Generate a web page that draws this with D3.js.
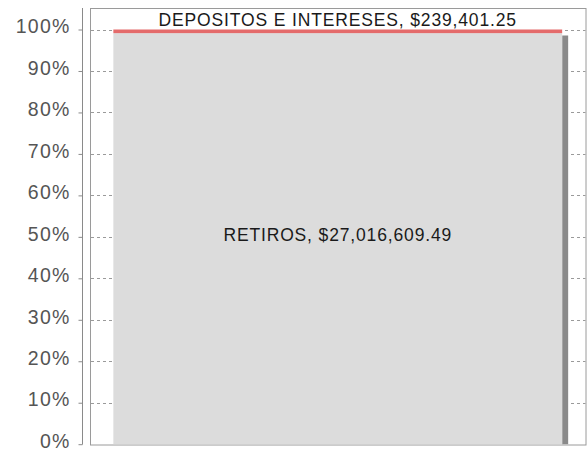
<!DOCTYPE html>
<html>
<head>
<meta charset="utf-8">
<script src="https://cdn.jsdelivr.net/npm/d3@7"></script>
<style>
  body { margin: 0; background: #fff; }
  svg { display: block; font-family: "Liberation Sans", Arial, sans-serif; }
</style>
</head>
<body>
<div id="chart"></div>
<script>
// data
const categories = ["RETIROS", "DEPOSITOS E INTERESES"];
const amounts = [27016609.49, 239401.25];
const segmentColors = ["#dcdcdc", "#e46b6b"];
const yTicks = [0, 0.1, 0.2, 0.3, 0.4, 0.5, 0.6, 0.7, 0.8, 0.9, 1];

const width = 588;
const height = 451;
const frame = { left: 90, top: 8, right: 585.5, bottom: 444.5 };

const svg = d3.select("#chart")
  .append("svg")
  .attr("width", width)
  .attr("height", height);

const total = d3.sum(amounts);
let acc = 0;
const stacked = categories.map((c, i) => {
  const d = { name: c, value: amounts[i], y0: acc / total, y1: (acc + amounts[i]) / total, color: segmentColors[i] };
  acc += amounts[i];
  return d;
});

const yScale = d3.scaleLinear()
  .domain([0, 1])
  .range([444.2, 29.5]);

const xScale = d3.scaleBand()
  .domain(["total"])
  .range([frame.left, frame.right])
  .paddingInner(0)
  .paddingOuter(0.052);

// frame
svg.append("rect")
  .attr("x", frame.left + 0.5)
  .attr("y", frame.top + 0.5)
  .attr("width", frame.right - frame.left)
  .attr("height", frame.bottom - frame.top)
  .attr("fill", "none")
  .attr("stroke", "#9a9a9a");

// dashed gridlines behind bar
svg.append("g")
  .selectAll("line")
  .data(yTicks.slice(1))
  .join("line")
  .attr("x1", frame.left + 1)
  .attr("x2", frame.right)
  .attr("y1", d => Math.round(yScale(d)) + 0.5)
  .attr("y2", d => Math.round(yScale(d)) + 0.5)
  .attr("stroke", "#9a9a9a")
  .attr("stroke-dasharray", "3,3");

const bx = xScale("total");
const bw = xScale.bandwidth();

// drop shadow
svg.append("rect")
  .attr("x", bx + bw)
  .attr("y", yScale(1) + 6)
  .attr("width", 6)
  .attr("height", yScale(0) - yScale(1) - 6)
  .attr("fill", "#8a8a8a");

// stacked segments
svg.append("g")
  .selectAll("rect")
  .data(stacked)
  .join("rect")
  .attr("x", bx)
  .attr("width", bw)
  .attr("y", d => yScale(d.y1))
  .attr("height", d => yScale(d.y0) - yScale(d.y1))
  .attr("fill", d => d.color);

const money = d3.format("$,.2f");

// labels
svg.append("g")
  .selectAll("text")
  .data(stacked)
  .join("text")
  .attr("x", bx + bw / 2)
  .attr("y", (d, i) => i === 0 ? (yScale(d.y0) + yScale(d.y1)) / 2 + 2 : yScale(1) - 3.5)
  .attr("text-anchor", "middle")
  .attr("font-size", "17.5px")
  .attr("letter-spacing", "0.85px")
  .attr("fill", "#1a1a1a")
  .text(d => `${d.name}, ${money(d.value)}`);

// y axis
const yAxis = svg.append("g")
  .attr("transform", "translate(82.5,0)")
  .call(d3.axisLeft(yScale)
    .tickValues(yTicks)
    .tickFormat(d3.format(".0%"))
    .tickSize(4)
    .tickPadding(8));
yAxis.select(".domain").remove();
yAxis.selectAll(".tick line").attr("stroke", "#8a8a8a");
yAxis.selectAll(".tick text")
  .attr("fill", "#555")
  .attr("font-size", "19.5px")
  .attr("letter-spacing", "1.2px")
  .attr("y", -3)
  .style("font-family", "'Liberation Sans', Arial, sans-serif");
yAxis.append("line")
  .attr("y1", frame.top)
  .attr("y2", Math.round(yScale(0)) + 0.5)
  .attr("stroke", "#8a8a8a");
</script>
</body>
</html>
